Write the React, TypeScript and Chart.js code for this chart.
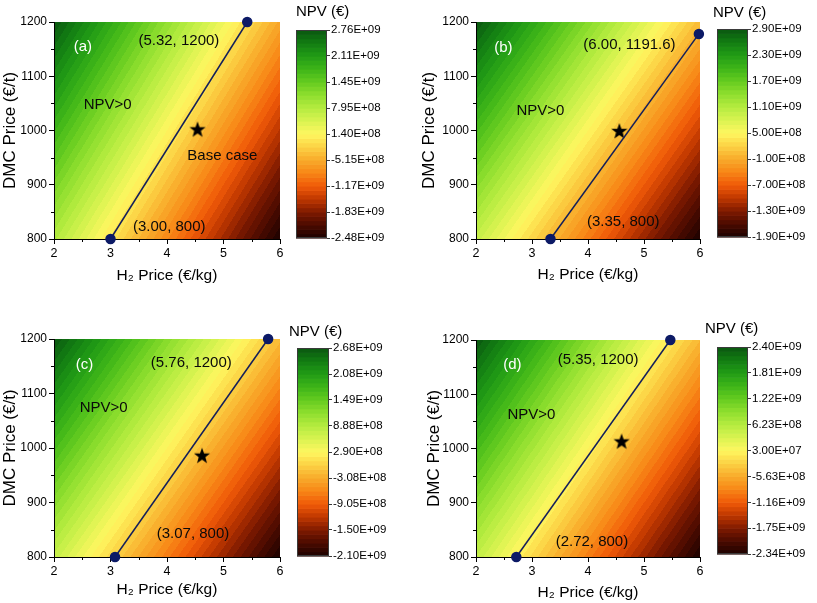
import React, { useEffect, useRef } from "react";
import { Chart, registerables } from "chart.js";
Chart.register(...registerables);

const FONT = '"Liberation Sans", Arial, Helvetica, sans-serif';

// ---------- data ----------
const h2Grid = [2, 6];
const dmcGrid = [800, 1200];
// NPV (€) at grid corners: rows = DMC [800, 1200], cols = H2 [2, 6]
const npvA = [[8.3e8, -2.48e9], [2.76e9, -5.5e8]];
const npvB = [[9.6e8, -1.9e9], [2.9e9, 4.0e7]];
const npvC = [[7.55e8, -2.1e9], [2.68e9, -1.75e8]];
const npvD = [[5.2e8, -2.34e9], [2.4e9, -4.6e8]];

const ticksA = [2.76e9, 2.11e9, 1.45e9, 7.95e8, 1.4e8, -5.15e8, -1.17e9, -1.83e9, -2.48e9];
const ticksB = [2.9e9, 2.3e9, 1.7e9, 1.1e9, 5.0e8, -1.0e8, -7.0e8, -1.3e9, -1.9e9];
const ticksC = [2.68e9, 2.08e9, 1.49e9, 8.88e8, 2.9e8, -3.08e8, -9.05e8, -1.5e9, -2.1e9];
const ticksD = [2.4e9, 1.81e9, 1.22e9, 6.23e8, 3.0e7, -5.63e8, -1.16e9, -1.75e9, -2.34e9];

const lineA = [{ x: 3.0, y: 800 }, { x: 5.42, y: 1200 }];
const lineB = [{ x: 3.33, y: 800 }, { x: 5.98, y: 1178 }];
const lineC = [{ x: 3.08, y: 800 }, { x: 5.79, y: 1200 }];
const lineD = [{ x: 2.72, y: 800 }, { x: 5.47, y: 1200 }];

const starA = [{ x: 4.54, y: 1002 }];
const starB = [{ x: 4.56, y: 999 }];
const starC = [{ x: 4.62, y: 986 }];
const starD = [{ x: 4.6, y: 1013 }];

const labelsA = [
  { x: 2.51, y: 1154, text: "(a)", white: true },
  { x: 4.21, y: 1165, text: "(5.32, 1200)" },
  { x: 2.95, y: 1047, text: "NPV>0" },
  { x: 4.98, y: 953, text: "Base case" },
  { x: 4.04, y: 822, text: "(3.00, 800)" },
];
const labelsB = [
  { x: 2.49, y: 1152, text: "(b)", white: true },
  { x: 4.74, y: 1158, text: "(6.00, 1191.6)" },
  { x: 3.15, y: 1036, text: "NPV>0" },
  { x: 4.63, y: 832, text: "(3.35, 800)" },
];
const labelsC = [
  { x: 2.54, y: 1153, text: "(c)", white: true },
  { x: 4.43, y: 1156, text: "(5.76, 1200)" },
  { x: 2.88, y: 1074, text: "NPV>0" },
  { x: 4.46, y: 842, text: "(3.07, 800)" },
];
const labelsD = [
  { x: 2.65, y: 1154, text: "(d)", white: true },
  { x: 4.18, y: 1164, text: "(5.35, 1200)" },
  { x: 2.99, y: 1062, text: "NPV>0" },
  { x: 4.07, y: 828, text: "(2.72, 800)" },
];

const xMinor = [2.5, 3.5, 4.5, 5.5];
const yMinor = [850, 950, 1050, 1150];

// ---------- colour map ----------
const cmapStops: [number, string][] = [
  [0.0, "#1c0200"],
  [0.06, "#480a00"],
  [0.125, "#7e1a00"],
  [0.19, "#c03800"],
  [0.25, "#f05a08"],
  [0.32, "#f88a18"],
  [0.375, "#f8aa2a"],
  [0.44, "#fcd244"],
  [0.5, "#fff660"],
  [0.56, "#dcf452"],
  [0.625, "#b6ec40"],
  [0.69, "#8ede2e"],
  [0.75, "#66cc20"],
  [0.81, "#40b618"],
  [0.875, "#229c16"],
  [0.94, "#127c12"],
  [1.0, "#0a5610"],
];
const hex = (h: string) => [parseInt(h.slice(1, 3), 16), parseInt(h.slice(3, 5), 16), parseInt(h.slice(5, 7), 16)];
function cmap(t: number) {
  t = Math.max(0, Math.min(1, t));
  for (let i = 0; i < cmapStops.length - 1; i++) {
    const [t0, c0] = cmapStops[i];
    const [t1, c1] = cmapStops[i + 1];
    if (t <= t1) {
      const f = (t - t0) / (t1 - t0);
      const a = hex(c0), b = hex(c1);
      return [0, 1, 2].map((k) => Math.round(a[k] + (b[k] - a[k]) * f));
    }
  }
  return hex(cmapStops[cmapStops.length - 1][1]);
}
const LEVELS = 48;
const levelRGB = Array.from({ length: LEVELS }, (_, k) => cmap((k + 0.5) / LEVELS));
const levelOf = (t: number) => Math.min(LEVELS - 1, Math.max(0, Math.floor(t * LEVELS)));

function fmt(v: number) {
  if (v === 0) return "0.00E+00";
  const e = Math.floor(Math.log10(Math.abs(v)) + 1e-12);
  const m = v / Math.pow(10, e);
  return m.toFixed(2) + "E" + (e >= 0 ? "+" : "-") + String(Math.abs(e)).padStart(2, "0");
}

function makeStar() {
  const c = document.createElement("canvas");
  c.width = 20;
  c.height = 20;
  const g = c.getContext("2d")!;
  g.beginPath();
  for (let i = 0; i < 10; i++) {
    const r = i % 2 === 0 ? 8.5 : 3.5;
    const a = -Math.PI / 2 + (i * Math.PI) / 5;
    const px = 10 + r * Math.cos(a), py = 10.5 + r * Math.sin(a);
    if (i === 0) g.moveTo(px, py);
    else g.lineTo(px, py);
  }
  g.closePath();
  g.fillStyle = "#000";
  g.fill();
  return c;
}

// ---------- panel layout ----------
type Panel = {
  grid: number[][];
  ticks: number[];
  line: { x: number; y: number }[];
  star: { x: number; y: number }[];
  labels: { x: number; y: number; text: string; white?: boolean }[];
  area: { L: number; T: number; R: number; B: number };
  yW: number;
  xH: number;
  bar: { L: number; T: number; R: number; B: number };
  titleX: number;
  titleTop: number;
};

const panels: Panel[] = [
  { grid: npvA, ticks: ticksA, line: lineA, star: starA, labels: labelsA, area: { L: 54, T: 22, R: 282, B: 239 }, yW: 54, xH: 46, bar: { L: 296, T: 30, R: 327, B: 238 }, titleX: 296, titleTop: 3 },
  { grid: npvB, ticks: ticksB, line: lineB, star: starB, labels: labelsB, area: { L: 476, T: 22, R: 702, B: 239 }, yW: 57, xH: 45, bar: { L: 717, T: 29, R: 748, B: 237 }, titleX: 713, titleTop: 4 },
  { grid: npvC, ticks: ticksC, line: lineC, star: starC, labels: labelsC, area: { L: 54, T: 339, R: 282, B: 557 }, yW: 54, xH: 42, bar: { L: 297, T: 348, R: 329, B: 556 }, titleX: 289, titleTop: 323 },
  { grid: npvD, ticks: ticksD, line: lineD, star: starD, labels: labelsD, area: { L: 476, T: 340, R: 702, B: 557 }, yW: 52, xH: 45, bar: { L: 717, T: 347, R: 748, B: 554 }, titleX: 705, titleTop: 320 },
];

const PAD_TOP = 10;
const PAD_RIGHT = 8;

function HeatChart({ p }: { p: Panel }) {
  const ref = useRef<HTMLCanvasElement>(null);
  const w = p.yW + (p.area.R - p.area.L) + PAD_RIGHT;
  const h = PAD_TOP + (p.area.B - p.area.T) + p.xH;
  useEffect(() => {
    const vmax = p.ticks[0];
    const vmin = p.ticks[p.ticks.length - 1];
    const heat = {
      id: "heat",
      beforeDraw(chart: any) {
        const { ctx, chartArea: a, scales } = chart;
        const xs = scales.x, ys = scales.y;
        const W = Math.round(a.right - a.left), H = Math.round(a.bottom - a.top);
        const off = document.createElement("canvas");
        off.width = W;
        off.height = H;
        const octx = off.getContext("2d")!;
        const img = octx.createImageData(W, H);
        const g = p.grid;
        for (let j = 0; j < H; j++) {
          const yv = ys.getValueForPixel(a.top + j + 0.5);
          const fy = (yv - dmcGrid[0]) / (dmcGrid[1] - dmcGrid[0]);
          for (let i = 0; i < W; i++) {
            const xv = xs.getValueForPixel(a.left + i + 0.5);
            const fx = (xv - h2Grid[0]) / (h2Grid[1] - h2Grid[0]);
            const v = (1 - fx) * (1 - fy) * g[0][0] + fx * (1 - fy) * g[0][1] + (1 - fx) * fy * g[1][0] + fx * fy * g[1][1];
            const c = levelRGB[levelOf((v - vmin) / (vmax - vmin))];
            const o = (j * W + i) * 4;
            img.data[o] = c[0];
            img.data[o + 1] = c[1];
            img.data[o + 2] = c[2];
            img.data[o + 3] = 255;
          }
        }
        octx.putImageData(img, 0, 0);
        ctx.drawImage(off, a.left, a.top, W, H);
      },
    };
    const minor = {
      id: "minor",
      afterDraw(chart: any) {
        const { ctx, chartArea: a, scales } = chart;
        ctx.save();
        ctx.strokeStyle = "#000";
        ctx.lineWidth = 1;
        ctx.beginPath();
        xMinor.forEach((v) => {
          const px = Math.round(scales.x.getPixelForValue(v)) + 0.5;
          ctx.moveTo(px, a.bottom);
          ctx.lineTo(px, a.bottom + 3);
        });
        yMinor.forEach((v) => {
          const py = Math.round(scales.y.getPixelForValue(v)) + 0.5;
          ctx.moveTo(a.left, py);
          ctx.lineTo(a.left - 3, py);
        });
        ctx.stroke();
        ctx.restore();
      },
    };
    const labels = {
      id: "labels",
      afterDatasetsDraw(chart: any) {
        const { ctx, scales } = chart;
        ctx.save();
        ctx.font = `15px ${FONT}`;
        ctx.textAlign = "center";
        ctx.textBaseline = "middle";
        p.labels.forEach((l) => {
          ctx.fillStyle = l.white ? "#ffffff" : "#0a0a0a";
          ctx.fillText(l.text, scales.x.getPixelForValue(l.x), scales.y.getPixelForValue(l.y));
        });
        ctx.restore();
      },
    };
    const chart = new Chart(ref.current!, {
      type: "scatter",
      data: {
        datasets: [
          {
            type: "line",
            data: p.line,
            borderColor: "#141f5a",
            borderWidth: 1.5,
            pointRadius: 4.5,
            pointBackgroundColor: "#0c1a66",
            pointBorderColor: "#0c1a66",
            showLine: true,
            clip: false,
            tension: 0,
          } as any,
          {
            data: p.star,
            pointStyle: makeStar(),
            pointRadius: 9,
            clip: false,
          } as any,
        ],
      },
      options: {
        animation: false,
        responsive: false,
        devicePixelRatio: 1,
        events: [],
        layout: { padding: { top: PAD_TOP, right: PAD_RIGHT, left: 0, bottom: 0 } },
        plugins: { legend: { display: false }, tooltip: { enabled: false } },
        scales: {
          x: {
            type: "linear",
            min: 2,
            max: 6,
            ticks: { stepSize: 1, color: "#000", padding: 2, font: { family: FONT, size: 12.5 }, callback: (v: any) => String(v) },
            grid: { drawOnChartArea: false, drawTicks: true, tickLength: 5, color: "#000" },
            border: { display: true, color: "#000", width: 1 },
            title: { display: true, text: "H\u2082 Price (\u20AC/kg)", color: "#000", padding: 0, font: { family: FONT, size: 15.5, lineHeight: 1.2 } },
            afterFit: (s: any) => {
              s.height = p.xH;
            },
          },
          y: {
            type: "linear",
            min: 800,
            max: 1200,
            ticks: { stepSize: 100, color: "#000", padding: 2, font: { family: FONT, size: 12 }, callback: (v: any) => String(v) },
            grid: { drawOnChartArea: false, drawTicks: true, tickLength: 5, color: "#000" },
            border: { display: true, color: "#000", width: 1 },
            title: { display: true, text: "DMC Price (\u20AC/t)", color: "#000", padding: 0, font: { family: FONT, size: 17, lineHeight: 1.2 } },
            afterFit: (s: any) => {
              s.width = p.yW;
            },
          },
        },
      } as any,
      plugins: [heat, minor, labels],
    });
    return () => chart.destroy();
  }, []);
  return (
    <canvas
      ref={ref}
      width={w}
      height={h}
      style={{ position: "absolute", left: p.area.L - p.yW, top: p.area.T - PAD_TOP, width: w, height: h }}
    />
  );
}

const CB_AXIS_W = 72;
const CB_BOTTOM = 10;

function ColorBar({ p }: { p: Panel }) {
  const ref = useRef<HTMLCanvasElement>(null);
  const padL = p.bar.L - p.titleX;
  const barW = p.bar.R - p.bar.L;
  const w = padL + barW + CB_AXIS_W;
  const h = p.bar.B - p.titleTop + CB_BOTTOM;
  const titleBottomPad = p.bar.T - p.titleTop - 18;
  useEffect(() => {
    const vmax = p.ticks[0];
    const vmin = p.ticks[p.ticks.length - 1];
    const bands = {
      id: "bands",
      beforeDraw(chart: any) {
        const { ctx, chartArea: a, scales } = chart;
        const ys = scales.y;
        ctx.save();
        for (let k = 0; k < LEVELS; k++) {
          const v0 = vmin + (k / LEVELS) * (vmax - vmin);
          const v1 = vmin + ((k + 1) / LEVELS) * (vmax - vmin);
          const yTop = ys.getPixelForValue(v1);
          const yBot = ys.getPixelForValue(v0);
          const c = levelRGB[k];
          ctx.fillStyle = `rgb(${c[0]},${c[1]},${c[2]})`;
          ctx.fillRect(a.left, yTop, a.right - a.left, yBot - yTop + 0.6);
        }
        ctx.restore();
      },
      afterDraw(chart: any) {
        const { ctx, chartArea: a } = chart;
        ctx.save();
        ctx.strokeStyle = "#3a3a3a";
        ctx.lineWidth = 1;
        ctx.strokeRect(Math.round(a.left) + 0.5, Math.round(a.top) + 0.5, Math.round(a.right - a.left) - 1, Math.round(a.bottom - a.top) - 1);
        ctx.restore();
      },
    };
    const chart = new Chart(ref.current!, {
      type: "scatter",
      data: { datasets: [] },
      options: {
        animation: false,
        responsive: false,
        devicePixelRatio: 1,
        events: [],
        layout: { padding: { left: 0, right: 0, top: 0, bottom: CB_BOTTOM } },
        plugins: {
          legend: { display: false },
          tooltip: { enabled: false },
          title: {
            display: true,
            text: "NPV (\u20AC)",
            align: "start",
            color: "#000",
            font: { family: FONT, size: 15, weight: "normal", lineHeight: 1.2 },
            padding: { top: 0, bottom: titleBottomPad },
          },
        },
        scales: {
          x: { display: false, type: "linear", min: 0, max: 1 },
          yl: {
            type: "linear",
            position: "left",
            display: true,
            grid: { display: false, drawTicks: false },
            border: { display: false },
            ticks: { display: false },
            afterFit: (s: any) => {
              s.width = padL;
            },
          },
          y: {
            type: "linear",
            position: "right",
            min: vmin,
            max: vmax,
            afterBuildTicks: (s: any) => {
              s.ticks = p.ticks.map((v) => ({ value: v }));
            },
            ticks: { color: "#000", padding: 1, font: { family: FONT, size: 11.5 }, callback: (v: any) => fmt(Number(v)) },
            grid: { drawOnChartArea: false, drawTicks: true, tickLength: 3, color: "#3a3a3a" },
            border: { display: false },
            afterFit: (s: any) => {
              s.width = CB_AXIS_W;
            },
          },
        },
      } as any,
      plugins: [bands],
    });
    return () => chart.destroy();
  }, []);
  return (
    <canvas
      ref={ref}
      width={w}
      height={h}
      style={{ position: "absolute", left: p.titleX, top: p.titleTop, width: w, height: h }}
    />
  );
}

export default function App() {
  return (
    <div style={{ position: "absolute", left: 0, top: 0, width: 817, height: 603, background: "#fff", overflow: "hidden" }}>
      {panels.map((p, i) => (
        <React.Fragment key={i}>
          <HeatChart p={p} />
          <ColorBar p={p} />
        </React.Fragment>
      ))}
    </div>
  );
}
